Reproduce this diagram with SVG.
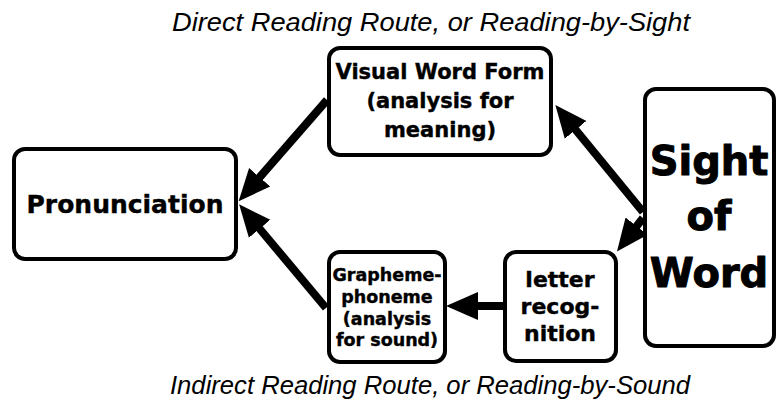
<svg xmlns="http://www.w3.org/2000/svg" width="777" height="400" viewBox="0 0 777 400">
<style>
.box{fill:#fff;stroke:#000;stroke-width:4}
.t{font-family:"DejaVu Sans",sans-serif;font-weight:bold;fill:#000;stroke:#000;stroke-width:0.4;stroke-linejoin:round;text-anchor:middle}
.big{stroke-width:1}
.title{font-family:"Liberation Sans",Arial,sans-serif;font-style:italic;font-size:25px;fill:#000;text-anchor:middle}
.c{fill:none;stroke:#000;stroke-width:8}
</style>
<defs>
<marker id="ah" markerUnits="userSpaceOnUse" markerWidth="34" markerHeight="30" viewBox="0 0 34 30" refX="1" refY="15" orient="auto">
<path d="M0,1 L32,15 L0,29 z" fill="#000"/>
</marker>
</defs>
<rect width="777" height="400" fill="#fff"/>
<text class="title" x="431" y="31" textLength="518" lengthAdjust="spacingAndGlyphs">Direct Reading Route, or Reading-by-Sight</text>
<text class="title" x="430" y="394" textLength="520" lengthAdjust="spacingAndGlyphs">Indirect Reading Route, or Reading-by-Sound</text>
<g id="connectors">
<path class="c" d="M327,100 L259,178" marker-end="url(#ah)"/>
<path class="c" d="M326,308 L259,228" marker-end="url(#ah)"/>
<path class="c" d="M643,212 L575,129" marker-end="url(#ah)"/>
<path class="c" d="M643,218 L636,227" marker-end="url(#ah)"/>
<path class="c" d="M503,306 L477,306" marker-end="url(#ah)"/>
</g>
<g id="visual">
<rect class="box" x="329" y="48" width="222" height="107" rx="11"/>
<text class="t" font-size="21" x="440" y="79">Visual Word Form</text>
<text class="t" font-size="21" x="440" y="108">(analysis for</text>
<text class="t" font-size="21" x="440" y="137">meaning)</text>
</g>
<g id="pronunciation">
<rect class="box" x="14" y="149" width="222" height="110" rx="11"/>
<text class="t" font-size="25" x="125" y="213">Pronunciation</text>
</g>
<g id="grapheme">
<rect class="box" x="329" y="252" width="116" height="110" rx="11"/>
<text class="t" font-size="17.5" x="387" y="281">Grapheme-</text>
<text class="t" font-size="17.5" x="387" y="303">phoneme</text>
<text class="t" font-size="17.5" x="387" y="325">(analysis</text>
<text class="t" font-size="17.5" x="387" y="346">for sound)</text>
</g>
<g id="letter">
<rect class="box" x="505" y="252" width="111" height="109" rx="11"/>
<text class="t" font-size="22" x="560" y="287">letter</text>
<text class="t" font-size="22" x="560" y="314">recog-</text>
<text class="t" font-size="22" x="560" y="341">nition</text>
</g>
<g id="sight">
<rect class="box" x="645" y="89" width="129" height="257" rx="11"/>
<text class="t big" font-size="40" x="709" y="175">Sight</text>
<text class="t big" font-size="40" x="709" y="230">of</text>
<text class="t big" font-size="40" x="709" y="287">Word</text>
</g>
</svg>
